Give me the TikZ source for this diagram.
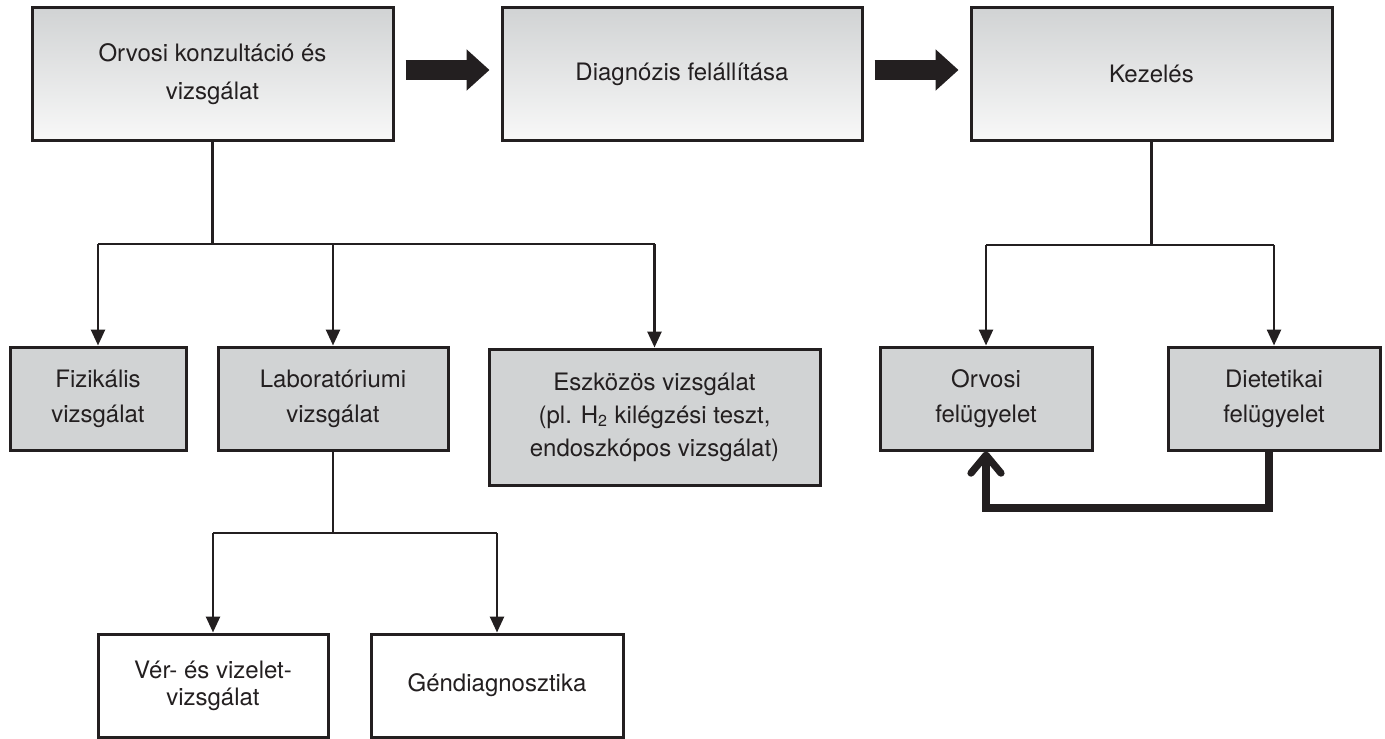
\documentclass[tikz,border=0pt]{standalone}
\usepackage{fontspec}
\setmainfont{TeX Gyre Heros}
\usetikzlibrary{arrows.meta}

\definecolor{inkblack}{RGB}{35,31,32}
\definecolor{boxgray}{RGB}{209,211,212}
\definecolor{fadegray}{RGB}{248,248,248}

\tikzset{
  box/.style={draw=inkblack, line width=1.5pt, align=center, inner sep=0pt,
    text=inkblack, font=\fontsize{12}{17.5}\selectfont},
  topbox/.style={box, top color=boxgray, bottom color=fadegray,
    minimum height=66pt},
  greybox/.style={box, fill=boxgray},
  plainbox/.style={box, fill=white},
  conn/.style={draw=inkblack, line width=1.3pt},
  arr/.style={conn, -{Triangle[length=8pt,width=7pt]}},
  fatarr/.style={draw=inkblack, line width=10pt,
    -{Triangle[length=11.5pt,width=20pt]},
    shorten <=5.5pt, shorten >=5.5pt},
  backarr/.style={draw=inkblack, line width=3.6pt, line join=miter,
    -{Straight Barb[length=9pt,width=15pt,round]}}
}

\begin{document}
\begin{tikzpicture}[x=0.5pt,y=-0.5pt]
  \useasboundingbox (0,0) rectangle (1385,738);

  % top row
  \node[topbox, minimum width=180.5pt, font=\fontsize{12}{19}\selectfont] (cons) at (212.5,74) {\raisebox{-3.5pt}{Orvosi konzultáció és}\\\raisebox{-3.5pt}{vizsgálat}};
  \node[topbox, minimum width=180pt] (diag) at (682,74) {Diagnózis felállítása};
  \node[topbox, minimum width=180.5pt] (kez) at (1151.5,74) {\raisebox{-3pt}{Kezelés}};

  \draw[fatarr] ([yshift=2pt]cons.east) -- ([yshift=2pt]diag.west);
  \draw[fatarr] ([yshift=2pt]diag.east) -- ([yshift=2pt]kez.west);

  % examinations
  \node[greybox, minimum width=88pt, minimum height=51.5pt] (fiz) at (98,398.5) {Fizikális\\vizsgálat};
  \node[greybox, minimum width=115pt, minimum height=51.5pt] (lab) at (333,398.5) {Laboratóriumi\\vizsgálat};
  \node[greybox, minimum width=165.5pt, minimum height=68pt, font=\fontsize{12}{16.5}\selectfont] (esz) at (654.5,417) {Eszközös vizsgálat\\(pl. H\textsubscript{2} kilégzési teszt,\\endoszkópos vizsgálat)};

  \coordinate (fork1) at (212.5,244);
  \draw[conn] (cons.south) -- (fork1);
  \draw[conn] (fiz.north |- fork1) -- (esz.north |- fork1);
  \draw[arr] (fiz.north |- fork1) -- (fiz.north);
  \draw[arr] (lab.north |- fork1) -- (lab.north);
  \draw[arr] (esz.north |- fork1) -- (esz.north);

  % laboratory
  \node[plainbox, minimum width=115pt, minimum height=51.5pt, font=\fontsize{12}{13.5}\selectfont] (ver) at (213,685.5) {Vér- és vizelet-\\vizsgálat};
  \node[plainbox, minimum width=126pt, minimum height=51.5pt] (gen) at (497,685.5) {Géndiagnosztika};

  \coordinate (fork2) at (333,533);
  \draw[conn] (lab.south) -- (fork2);
  \draw[conn] (ver.north |- fork2) -- (gen.north |- fork2);
  \draw[arr] (ver.north |- fork2) -- (ver.north);
  \draw[arr] (gen.north |- fork2) -- (gen.north);

  % treatment
  \node[greybox, minimum width=106pt, minimum height=51.5pt] (orv) at (986,398.5) {Orvosi\\felügyelet};
  \node[greybox, minimum width=106pt, minimum height=51.5pt] (diet) at (1274,398.5) {Dietetikai\\felügyelet};

  \coordinate (fork3) at (1151.5,245);
  \draw[conn] (kez.south) -- (fork3);
  \draw[conn] (orv.north |- fork3) -- (diet.north |- fork3);
  \draw[arr] (orv.north |- fork3) -- (orv.north);
  \draw[arr] (diet.north |- fork3) -- (diet.north);

  \coordinate (loop) at (986,508);
  \draw[backarr] ([xshift=-2.5pt]diet.south) |- (loop) -- (orv.south);
\end{tikzpicture}
\end{document}
